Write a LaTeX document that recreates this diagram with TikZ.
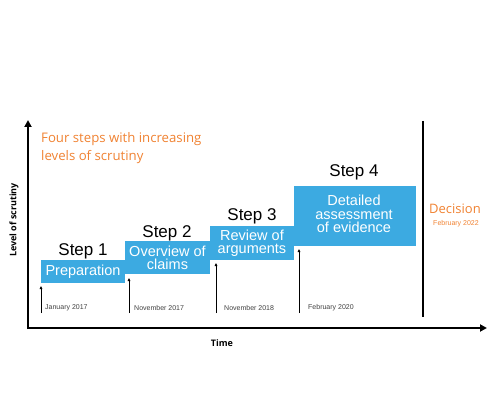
\documentclass[tikz,border=0pt]{standalone}
\usepackage{fontspec}
\setmainfont{Liberation Sans}
\newfontfamily\opensans{Open Sans}
\usetikzlibrary{arrows.meta}
\definecolor{stepblue}{RGB}{60,170,225}
\definecolor{decorange}{RGB}{240,130,50}
\tikzset{
  axisline/.style={line width=2pt, -{Triangle[length=7pt,width=7pt]}},
  tickarrow/.style={line width=0.7pt, -{Triangle[length=3pt,width=2.6pt]}},
  stepbox/.style={fill=stepblue, text=white, inner sep=0pt, align=center,
    font=\fontsize{14.5}{13.2}\selectfont},
  steplabel/.style={font=\fontsize{17}{20}\selectfont, inner sep=0pt},
  datelabel/.style={font=\fontsize{7}{8}\selectfont, text=black!75, anchor=west, inner sep=0pt},
  axislabel/.style={font=\opensans\bfseries\fontsize{9}{10}\selectfont, inner sep=0pt},
}
\begin{document}
\begin{tikzpicture}[x=1pt,y=-1pt]
\useasboundingbox (0,0) rectangle (491,412);
% axes
\coordinate (origin) at (28,328);
\coordinate (ytop) at (28,120);
\coordinate (xend) at (487,328);
\draw[axisline] ([yshift=-1pt]origin) -- (ytop);
\draw[axisline] (origin) -- (xend);
\node[axislabel, rotate=90] (ylab) at (14,220) {Level of scrutiny};
\node[axislabel] (xlab) at (222,343) {Time};
% title
\node[font=\opensans\fontsize{13.2}{18}\selectfont, text=decorange, align=left, anchor=north west, inner sep=0pt] (title) at (41,132) {Four steps with increasing\\levels of scrutiny};
% boxes
\node[stepbox, minimum width=84pt, minimum height=23pt] (b1) at (83,271.5) {Preparation};
\node[stepbox, minimum width=85pt, minimum height=33pt] (b2) at (167.5,257.5) {Overview of\\claims};
\node[stepbox, minimum width=84pt, minimum height=34pt] (b3) at (252,243) {Review of\\arguments};
\node[stepbox, minimum width=122pt, minimum height=60pt] (b4) at (355,216) {};
\node[stepbox] (b4t) at (354,214) {Detailed\\assessment\\of evidence};
% step labels
\node[steplabel] (s1) at (83,251) {Step 1};
\node[steplabel] (s2) at (167,233) {Step 2};
\node[steplabel] (s3) at (252,216) {Step 3};
\node[steplabel] (s4) at (354,172) {Step 4};
% tick arrows
\coordinate (a1s) at (41,313); \coordinate (a1e) at (41,286);
\coordinate (a2s) at (129,313); \coordinate (a2e) at (129,278);
\coordinate (a3s) at (216,313); \coordinate (a3e) at (216,263);
\coordinate (a4s) at (299,313); \coordinate (a4e) at (299,249);
\draw[tickarrow] (a1s) -- (a1e);
\draw[tickarrow] (a2s) -- (a2e);
\draw[tickarrow] (a3s) -- (a3e);
\draw[tickarrow] (a4s) -- (a4e);
\node[datelabel] (d1) at (45,308) {January 2017};
\node[datelabel] (d2) at (134,308) {November 2017};
\node[datelabel] (d3) at (224,308) {November 2018};
\node[datelabel] (d4) at (308,308) {February 2020};
% decision
\coordinate (dtop) at (423,121);
\coordinate (dbot) at (423,317);
\draw[line width=2pt] (dtop) -- (dbot);
\node[font=\opensans\fontsize{13}{15}\selectfont, text=decorange, inner sep=0pt] (dec) at (455,209) {Decision};
\node[font=\fontsize{7}{8}\selectfont, text=decorange, inner sep=0pt] (decd) at (456,224) {February 2022};
\end{tikzpicture}
\end{document}
